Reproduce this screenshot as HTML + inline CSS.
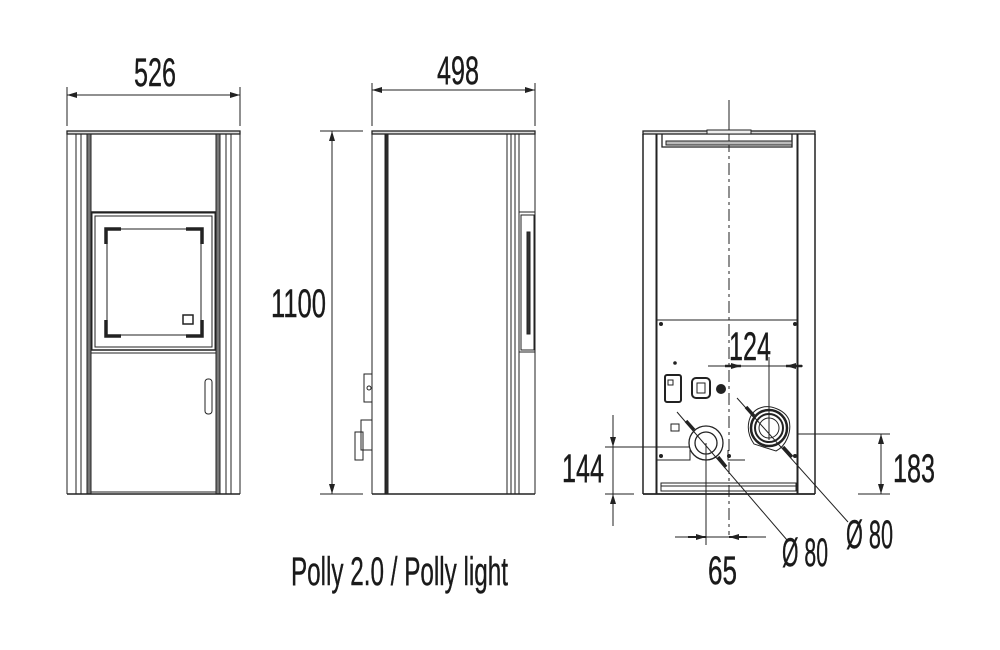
<!DOCTYPE html>
<html><head><meta charset="utf-8"><style>
html,body{margin:0;padding:0;background:#fff}
svg{display:block}
text{font-family:"Liberation Sans Narrow","Liberation Sans",sans-serif;fill:#1a1a1a;stroke:#1a1a1a;stroke-width:0.4}
</style></head><body>
<svg width="1000" height="650" viewBox="0 0 1000 650" xmlns="http://www.w3.org/2000/svg">
<defs>
<marker id="a" viewBox="0 0 10 6" refX="10" refY="3" markerWidth="10" markerHeight="6" orient="auto-start-reverse" markerUnits="userSpaceOnUse"><path d="M0,0 L10,3 L0,6 z" fill="#222"/></marker>
</defs>
<g stroke="#222" fill="none" stroke-width="1">
<!-- FRONT VIEW -->
<line x1="67" y1="87" x2="67" y2="126"/><line x1="240" y1="87" x2="240" y2="126"/>
<line x1="67" y1="95" x2="240" y2="95" marker-start="url(#a)" marker-end="url(#a)"/>
<rect x="67" y="131" width="173" height="3" fill="#ddd" stroke-width="1.3"/>
<line x1="67" y1="134" x2="67" y2="494"/><line x1="240" y1="134" x2="240" y2="494"/>
<line x1="76" y1="134" x2="76" y2="494"/><line x1="231" y1="134" x2="231" y2="494"/>
<rect x="87" y="134" width="4" height="360" fill="#777"/>
<rect x="216" y="134" width="4" height="360" fill="#777"/>
<line x1="226" y1="134" x2="226" y2="494"/><line x1="81" y1="134" x2="81" y2="494"/>
<line x1="91" y1="212" x2="216" y2="212" stroke-width="1.5"/>
<rect x="92" y="213" width="123" height="137"/>
<rect x="95" y="216" width="117" height="131"/>
<rect x="107" y="229" width="94" height="106"/>
<path d="M106,244 V229 H121 M186,229 H202 V244 M106,320 V336 H121 M186,336 H202 V320" stroke-width="3.5"/>
<rect x="183" y="315" width="10" height="9" stroke-width="1.5"/>
<line x1="91" y1="350" x2="216" y2="350" stroke-width="1.5"/>
<line x1="91" y1="353" x2="216" y2="353"/>
<rect x="205" y="379" width="7" height="35" rx="3"/>
<line x1="67" y1="494" x2="240" y2="494" stroke-width="1.5"/>
<line x1="91" y1="492" x2="216" y2="492"/>

<!-- SIDE VIEW -->
<line x1="372" y1="83" x2="372" y2="126"/><line x1="535" y1="83" x2="535" y2="126"/>
<line x1="372" y1="90" x2="535" y2="90" marker-start="url(#a)" marker-end="url(#a)"/>
<line x1="320" y1="131" x2="363" y2="131"/><line x1="320" y1="494" x2="363" y2="494"/>
<line x1="332" y1="131" x2="332" y2="494" marker-start="url(#a)" marker-end="url(#a)"/>
<rect x="372" y="131" width="163" height="3" fill="#ddd" stroke-width="1.3"/>
<line x1="372" y1="134" x2="372" y2="494"/>
<line x1="385" y1="134" x2="385" y2="494"/>
<rect x="386" y="134" width="2" height="360" fill="#333"/>
<line x1="507" y1="134" x2="507" y2="494"/><line x1="511" y1="134" x2="511" y2="494"/>
<line x1="515" y1="134" x2="515" y2="494"/><line x1="519" y1="134" x2="519" y2="494"/>
<line x1="535" y1="134" x2="535" y2="494"/>
<line x1="519" y1="212" x2="535" y2="212"/>
<rect x="521" y="215" width="13" height="135"/>
<path d="M527,232 H530 V334 H527 Z" fill="#333"/>
<line x1="519" y1="352" x2="535" y2="352"/>
<line x1="372" y1="494" x2="535" y2="494" stroke-width="1.5"/>
<rect x="364" y="374" width="8" height="28"/>
<circle cx="369" cy="388" r="2"/>
<rect x="361" y="420" width="11" height="30"/>
<rect x="355" y="432" width="8" height="28"/>

<!-- BACK VIEW -->
<line x1="729" y1="100" x2="729" y2="140"/>
<line x1="729" y1="140" x2="729" y2="535" stroke-dasharray="12,4,3,4"/>
<rect x="643" y="131" width="172" height="3" fill="#ddd" stroke-width="1.3"/>
<rect x="707" y="130" width="44" height="4" fill="#eee"/>
<line x1="643" y1="134" x2="643" y2="494" stroke-width="1.5"/>
<line x1="815" y1="134" x2="815" y2="494" stroke-width="1.5"/>
<line x1="656" y1="134" x2="656" y2="494"/><line x1="657" y1="134" x2="657" y2="494"/>
<line x1="797" y1="134" x2="797" y2="494"/><line x1="798" y1="134" x2="798" y2="494"/>
<path d="M662,134 V147 H792 V134" stroke-width="1.3"/>
<rect x="666" y="141" width="126" height="4" fill="#bbb"/>
<line x1="657" y1="320" x2="797" y2="320"/>
<path d="M657,460 H690 V450 M728,450 V460 H745"/>
<line x1="643" y1="494" x2="815" y2="494" stroke-width="1.8"/>
<rect x="661" y="483" width="135" height="8"/>
<line x1="661" y1="486" x2="796" y2="486"/>
<g fill="#222" stroke="none">
<circle cx="661" cy="324" r="2"/><circle cx="795" cy="324" r="2"/>
<circle cx="661" cy="456" r="2"/><circle cx="729" cy="456" r="2"/><circle cx="795" cy="456" r="2"/>
<circle cx="675" cy="363" r="1.8"/>
<circle cx="721" cy="389" r="5"/>
</g>
<rect x="665" y="375" width="16" height="27" rx="2" stroke-width="2"/>
<rect x="668" y="380" width="5" height="5"/>
<rect x="692" y="378" width="18" height="20" rx="4" stroke-width="2"/>
<rect x="697" y="383" width="8" height="10"/>
<rect x="671" y="424" width="8" height="7"/>
<circle cx="706" cy="443" r="17" stroke-width="1.3"/><circle cx="706" cy="443" r="11" stroke-width="1.3"/>
<path d="M754,444 C744,430 748,412 760,408 C770,404 785,410 789,420 C792,432 786,446 776,451 Z"/>
<circle cx="769" cy="428" r="18" stroke-width="2.5"/><circle cx="769" cy="428" r="14" stroke-width="2"/>
<circle cx="769" cy="428" r="10"/>
<!-- 124 -->
<line x1="708" y1="366" x2="803" y2="366"/>
<line x1="725" y1="366" x2="741" y2="366" marker-end="url(#a)" stroke-width="2.5"/>
<line x1="802" y1="366" x2="786" y2="366" marker-end="url(#a)" stroke-width="2.5"/>
<line x1="769" y1="357" x2="769" y2="440"/>
<!-- 183 -->
<line x1="797" y1="434" x2="890" y2="434"/>
<line x1="858" y1="494" x2="890" y2="494"/>
<line x1="881" y1="434" x2="881" y2="494" marker-start="url(#a)" marker-end="url(#a)"/>
<!-- 144 -->
<line x1="605" y1="447" x2="690" y2="447"/>
<line x1="605" y1="494" x2="634" y2="494"/>
<line x1="613" y1="415" x2="613" y2="447" marker-end="url(#a)"/>
<line x1="613" y1="526" x2="613" y2="494" marker-end="url(#a)"/>
<line x1="613" y1="447" x2="613" y2="494"/>
<!-- 65 -->
<line x1="706" y1="443" x2="706" y2="545"/>
<line x1="675" y1="537" x2="766" y2="537"/>
<line x1="688" y1="537" x2="706" y2="537" marker-end="url(#a)" stroke-width="2"/>
<line x1="747" y1="537" x2="729" y2="537" marker-end="url(#a)" stroke-width="2"/>
<!-- leaders -->
<line x1="677" y1="412" x2="787" y2="540"/>
<line x1="686" y1="421" x2="694" y2="430" stroke-width="3.5"/>
<line x1="718" y1="457" x2="726" y2="467" stroke-width="3.5"/>
<line x1="737" y1="398" x2="848" y2="522"/>
<line x1="746" y1="407" x2="754" y2="416" stroke-width="3.5"/>
<line x1="783" y1="447" x2="792" y2="457" stroke-width="3.5"/>
</g>
<g font-size="40">
<text x="134" y="86" textLength="42" lengthAdjust="spacingAndGlyphs">526</text>
<text x="437" y="84" textLength="42" lengthAdjust="spacingAndGlyphs">498</text>
<text x="271" y="317" textLength="55" lengthAdjust="spacingAndGlyphs">1100</text>
<text x="729" y="360" textLength="42" lengthAdjust="spacingAndGlyphs">124</text>
<text x="893" y="482" textLength="42" lengthAdjust="spacingAndGlyphs">183</text>
<text x="562" y="482" textLength="42" lengthAdjust="spacingAndGlyphs">144</text>
<text x="708" y="584" textLength="29" lengthAdjust="spacingAndGlyphs">65</text>
<text x="782" y="566" textLength="46" lengthAdjust="spacingAndGlyphs">Ø 80</text>
<text x="846" y="548" textLength="47" lengthAdjust="spacingAndGlyphs">Ø 80</text>
<text x="291" y="585" textLength="217" lengthAdjust="spacingAndGlyphs">Polly 2.0 / Polly light</text>
</g>
</svg>
</body></html>
